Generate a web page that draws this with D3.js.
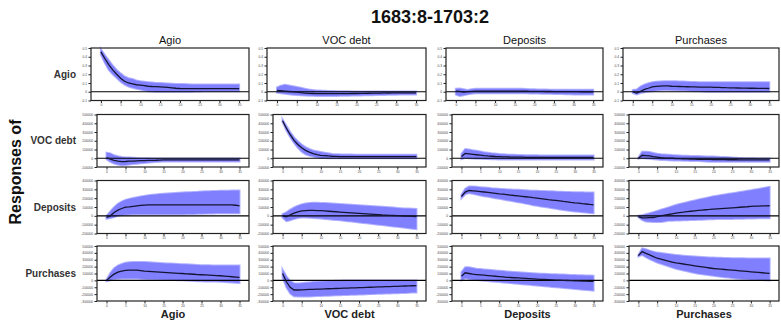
<!DOCTYPE html>
<html><head><meta charset="utf-8">
<script src="https://cdn.jsdelivr.net/npm/d3@7"></script>
<style>body{margin:0;background:#fff}svg{display:block;font-family:"Liberation Sans",Arial,sans-serif}</style>
</head><body><div id="c"></div>
<script>
const title = "1683:8-1703:2";
const variables = ["Agio","VOC debt","Deposits","Purchases"];
const yLabel = "Responses of";
const horizons = [0,1,2,3,4,5,6,7,8,9,10,11,12,13,14,15,16,17,18,19,20,21,22,23,24,25,26,27,28,29,30,31,32,33,34,35];
const xTicks = [0,5,10,15,20,25,30,35];
const rowUnits = [1,100000,100000,100000];
const rowTicks = [[-0.1,0,0.1,0.2,0.3,0.4,0.5],[-1,0,1,2,3,4,5],[-2,-1,0,1,2,3,4],[-3,-2,-1,0,1,2,3,4,5]];

// Row 1: responses of Agio
const agio_agio_mean=[.455,.38,.31,.25,.20,.155,.12,.10,.09,.08,.075,.07,.063,.06,.058,.056,.054,.05,.045,.04,.037,.036,.035,.035,.035,.035,.035,.035,.035,.035,.035,.035,.035,.035,.035,.035];
const agio_agio_hi=[.485,.42,.36,.30,.25,.21,.175,.155,.145,.13,.12,.115,.11,.105,.10,.10,.098,.095,.092,.09,.09,.088,.086,.084,.082,.082,.082,.082,.082,.082,.082,.082,.082,.082,.082,.082];
const agio_agio_lo=[.425,.33,.25,.20,.157,.115,.082,.06,.045,.035,.026,.015,.007,.003,0,0,0,0,0,0,0,0,0,0,.002,.004,.005,.006,.007,.007,.007,.007,.007,.007,.007,.007];
const agio_voc_mean=[.015,.012,.007,.003,0,-.005,-.011,-.015,-.018,-.02,-.022,-.022,-.022,-.022,-.022,-.022,-.022,-.021,-.021,-.02,-.02,-.019,-.018,-.017,-.016,-.015,-.015,-.014,-.014,-.013,-.013,-.013,-.012,-.012,-.012,-.012];
const agio_voc_hi=[.05,.07,.08,.072,.063,.055,.045,.035,.026,.02,.015,.013,.012,.01,.008,.007,.006,.005,.005,.004,.004,.004,.004,.004,.004,.004,.004,.004,.004,.004,.004,.004,.004,.004,.004,.004];
const agio_voc_lo=[-.011,-.017,-.022,-.028,-.034,-.037,-.04,-.043,-.045,-.047,-.048,-.048,-.048,-.048,-.048,-.048,-.047,-.046,-.045,-.044,-.043,-.042,-.041,-.04,-.039,-.038,-.037,-.036,-.035,-.034,-.033,-.032,-.031,-.03,-.03,-.03];
const agio_dep_mean=[.007,.004,-.003,.002,.005,.007,.007,.007,.007,.007,.007,.007,.007,.007,.007,.007,.007,.006,.006,.005,.005,.004,.004,.003,.003,.002,.002,.002,.001,.001,.001,.001,0,0,0,0];
const agio_dep_hi=[.033,.037,.028,.02,.028,.033,.033,.033,.033,.033,.033,.033,.033,.033,.033,.033,.033,.033,.031,.029,.028,.027,.026,.025,.024,.024,.023,.023,.022,.022,.022,.022,.022,.022,.022,.022];
const agio_dep_lo=[-.033,-.048,-.04,-.03,-.022,-.018,-.018,-.018,-.018,-.018,-.018,-.018,-.018,-.018,-.018,-.018,-.018,-.018,-.018,-.019,-.02,-.021,-.022,-.023,-.024,-.025,-.026,-.027,-.028,-.029,-.03,-.03,-.03,-.03,-.03,-.03];
const agio_pur_mean=[0,-.015,.005,.026,.04,.056,.062,.065,.067,.066,.063,.062,.06,.058,.057,.056,.055,.054,.053,.052,.052,.051,.05,.048,.046,.045,.044,.043,.042,.041,.04,.04,.039,.038,.038,.037];
const agio_pur_hi=[.019,.025,.06,.082,.097,.108,.114,.118,.12,.12,.12,.119,.118,.116,.114,.112,.111,.11,.109,.108,.108,.108,.108,.108,.108,.108,.108,.108,.108,.108,.108,.108,.108,.108,.108,.108];
const agio_pur_lo=[-.015,-.03,-.015,-.005,.002,.007,.012,.016,.019,.019,.018,.017,.015,.013,.011,.009,.007,.005,.003,.001,0,0,0,0,0,0,0,0,0,0,0,0,0,0,0,0];
// Row 2: responses of VOC debt (units of 100000)
const voc_agio_mean=[.075,-.11,-.23,-.32,-.38,-.37,-.34,-.32,-.30,-.28,-.26,-.25,-.24,-.23,-.21,-.19,-.19,-.19,-.19,-.19,-.19,-.19,-.19,-.19,-.19,-.19,-.19,-.19,-.19,-.19,-.19,-.19,-.19,-.19,-.19,-.19];
const voc_agio_hi=[.64,.56,.34,.22,.15,.1,.075,.05,.03,.01,0,-.01,-.02,-.03,-.04,-.04,-.04,-.04,-.04,-.04,-.04,-.04,-.04,-.04,-.04,-.04,-.04,-.04,-.04,-.04,-.04,-.04,-.04,-.04,-.04,-.04];
const voc_agio_lo=[-.11,-.41,-.6,-.72,-.79,-.76,-.71,-.66,-.62,-.57,-.53,-.5,-.47,-.44,-.41,-.38,-.38,-.38,-.38,-.38,-.38,-.38,-.38,-.38,-.38,-.38,-.38,-.38,-.38,-.38,-.38,-.38,-.38,-.38,-.38,-.38];
const voc_voc_mean=[4.29,3.43,2.69,2.05,1.57,1.19,.9,.7,.52,.42,.34,.3,.26,.23,.21,.19,.19,.19,.19,.19,.19,.19,.19,.19,.19,.19,.19,.19,.19,.19,.19,.19,.19,.19,.19,.19];
const voc_voc_hi=[4.44,3.7,2.99,2.39,1.94,1.57,1.27,1.06,.9,.8,.71,.63,.56,.5,.47,.45,.44,.43,.42,.41,.41,.41,.41,.41,.41,.41,.41,.41,.41,.41,.41,.41,.41,.41,.41,.41];
const voc_voc_lo=[4.14,3.17,2.39,1.75,1.19,.75,.45,.3,.19,.1,.04,.02,0,0,0,0,0,0,0,0,0,0,0,0,0,0,0,0,0,0,0,0,0,0,0,0];
const voc_dep_mean=[.2,.55,.5,.45,.4,.35,.3,.26,.23,.2,.18,.16,.15,.14,.13,.12,.12,.11,.11,.1,.1,.1,.1,.1,.1,.1,.1,.1,.1,.1,.1,.1,.1,.1,.1,.1];
const voc_dep_hi=[.5,1.05,1.0,.92,.85,.78,.7,.64,.58,.53,.49,.46,.43,.41,.39,.37,.36,.35,.34,.33,.33,.32,.32,.32,.32,.32,.32,.32,.32,.32,.32,.32,.32,.32,.32,.32];
const voc_dep_lo=[-.1,.05,0,-.02,-.05,-.07,-.09,-.1,-.11,-.12,-.13,-.13,-.13,-.13,-.13,-.13,-.13,-.13,-.13,-.13,-.13,-.13,-.13,-.13,-.13,-.13,-.13,-.13,-.13,-.13,-.13,-.13,-.13,-.13,-.13,-.13];
const voc_pur_mean=[0,.34,.3,.26,.19,.13,.07,.04,.02,0,-.04,-.05,-.06,-.08,-.1,-.11,-.12,-.13,-.13,-.14,-.15,-.15,-.16,-.16,-.17,-.17,-.17,-.18,-.18,-.18,-.18,-.19,-.19,-.19,-.19,-.19];
const voc_pur_hi=[.07,.75,.73,.71,.6,.52,.45,.42,.39,.36,.34,.32,.3,.29,.27,.26,.25,.23,.21,.2,.19,.17,.15,.13,.11,.08,.06,.04,.02,.01,0,-.01,-.02,-.03,-.04,-.04];
const voc_pur_lo=[-.04,.04,-.02,-.07,-.11,-.15,-.19,-.21,-.23,-.25,-.26,-.27,-.28,-.29,-.3,-.3,-.32,-.34,-.37,-.39,-.41,-.41,-.41,-.41,-.41,-.41,-.41,-.41,-.41,-.41,-.41,-.41,-.41,-.41,-.41,-.41];
// Row 3: responses of Deposits
const dep_agio_mean=[-.19,0,.38,.64,.83,.98,1.02,1.08,1.13,1.18,1.21,1.23,1.25,1.25,1.25,1.25,1.25,1.25,1.25,1.25,1.25,1.25,1.25,1.25,1.25,1.25,1.25,1.25,1.25,1.25,1.25,1.25,1.25,1.25,1.2,1.13];
const dep_agio_hi=[0,.49,.98,1.36,1.62,1.81,1.92,2.02,2.11,2.19,2.26,2.32,2.38,2.42,2.46,2.49,2.52,2.55,2.58,2.61,2.64,2.66,2.68,2.7,2.72,2.75,2.77,2.78,2.8,2.82,2.83,2.84,2.85,2.86,2.86,2.87];
const dep_agio_lo=[-.34,-.26,-.15,0,.08,.11,.15,.17,.19,.19,.19,.19,.19,.19,.19,.19,.19,.19,.19,.19,.19,.2,.21,.22,.23,.24,.25,.26,.27,.28,.29,.29,.3,.3,.3,.3];
const dep_voc_mean=[0,-.1,.1,.3,.45,.55,.6,.62,.62,.6,.58,.55,.52,.49,.46,.43,.4,.37,.34,.31,.28,.25,.22,.19,.16,.13,.1,.08,.06,.04,.02,0,-.02,-.04,-.06,-.08];
const dep_voc_hi=[.2,.4,.7,.95,1.15,1.3,1.4,1.45,1.47,1.47,1.46,1.44,1.42,1.4,1.38,1.35,1.32,1.29,1.26,1.23,1.2,1.17,1.14,1.11,1.08,1.05,1.02,.99,.96,.93,.9,.87,.84,.82,.8,.78];
const dep_voc_lo=[-.2,-.6,-.5,-.35,-.25,-.2,-.2,-.22,-.25,-.28,-.31,-.35,-.39,-.43,-.47,-.51,-.55,-.6,-.65,-.7,-.75,-.8,-.85,-.9,-.95,-1.0,-1.05,-1.1,-1.15,-1.2,-1.25,-1.3,-1.35,-1.4,-1.45,-1.5];
const dep_dep_mean=[2.19,2.68,2.87,2.83,2.79,2.75,2.7,2.65,2.6,2.55,2.49,2.45,2.4,2.35,2.3,2.26,2.21,2.16,2.11,2.05,2.0,1.95,1.9,1.84,1.79,1.74,1.69,1.63,1.58,1.52,1.47,1.43,1.38,1.34,1.29,1.25];
const dep_dep_hi=[2.38,3.06,3.32,3.32,3.29,3.25,3.21,3.17,3.13,3.1,3.06,3.04,3.01,2.99,2.96,2.94,2.92,2.9,2.87,2.85,2.83,2.81,2.8,2.78,2.77,2.75,2.74,2.72,2.71,2.69,2.68,2.67,2.66,2.65,2.65,2.64];
const dep_dep_lo=[2.0,2.45,2.57,2.49,2.4,2.3,2.22,2.15,2.07,2.0,1.92,1.85,1.77,1.7,1.62,1.55,1.47,1.38,1.3,1.21,1.13,1.06,.99,.93,.86,.79,.73,.67,.61,.55,.49,.45,.41,.37,.33,.3];
const dep_pur_mean=[-.08,-.23,-.23,-.21,-.19,-.1,0,.08,.15,.23,.3,.36,.41,.47,.52,.57,.61,.65,.69,.72,.76,.79,.82,.85,.88,.91,.94,.97,1.0,1.03,1.07,1.09,1.1,1.12,1.13,1.14];
const dep_pur_hi=[0,.08,.19,.3,.42,.55,.69,.82,.95,1.08,1.22,1.33,1.44,1.54,1.65,1.75,1.85,1.94,2.03,2.12,2.21,2.28,2.35,2.42,2.49,2.55,2.62,2.69,2.76,2.83,2.9,2.98,3.05,3.13,3.2,3.28];
const dep_pur_lo=[-.15,-.46,-.65,-.68,-.69,-.69,-.69,-.63,-.57,-.55,-.53,-.52,-.5,-.49,-.47,-.46,-.44,-.43,-.41,-.4,-.38,-.37,-.36,-.36,-.35,-.35,-.34,-.33,-.32,-.31,-.3,-.29,-.28,-.28,-.27,-.27];
// Row 4: responses of Purchases
const pur_agio_mean=[0,.48,.91,1.2,1.35,1.44,1.49,1.5,1.49,1.42,1.35,1.31,1.27,1.23,1.19,1.15,1.12,1.09,1.06,1.03,1.0,.96,.93,.89,.85,.82,.79,.76,.73,.7,.67,.62,.57,.53,.48,.43];
const pur_agio_hi=[.1,1.06,1.78,2.16,2.4,2.55,2.64,2.68,2.69,2.68,2.67,2.64,2.6,2.57,2.53,2.5,2.47,2.44,2.41,2.38,2.36,2.33,2.3,2.27,2.24,2.21,2.2,2.19,2.18,2.17,2.16,2.16,2.16,2.16,2.16,2.16];
const pur_agio_lo=[-.14,0,.19,.24,.29,.29,.29,.28,.27,.23,.19,.17,.15,.13,.11,.1,.08,.06,.04,.02,0,-.03,-.06,-.09,-.11,-.14,-.15,-.16,-.17,-.18,-.19,-.23,-.27,-.31,-.34,-.38];
const pur_voc_mean=[1.0,-.2,-1.0,-1.4,-1.4,-1.38,-1.35,-1.32,-1.3,-1.28,-1.26,-1.24,-1.22,-1.2,-1.18,-1.16,-1.14,-1.12,-1.1,-1.08,-1.06,-1.04,-1.02,-1.0,-.98,-.96,-.94,-.92,-.9,-.88,-.86,-.84,-.82,-.8,-.78,-.76];
const pur_voc_hi=[1.6,.6,-.1,-.4,-.45,-.4,-.35,-.3,-.25,-.2,-.15,-.12,-.1,-.08,-.06,-.04,-.02,0,0,0,0,0,0,0,0,0,0,0,0,0,0,0,0,0,0,0];
const pur_voc_lo=[.4,-1.0,-1.9,-2.3,-2.35,-2.35,-2.35,-2.33,-2.3,-2.28,-2.26,-2.24,-2.22,-2.2,-2.18,-2.16,-2.14,-2.12,-2.1,-2.08,-2.06,-2.04,-2.02,-2.0,-1.98,-1.96,-1.94,-1.92,-1.9,-1.88,-1.86,-1.84,-1.82,-1.8,-1.78,-1.76];
const pur_dep_mean=[.6,1.1,1.0,.9,.85,.8,.75,.7,.65,.6,.55,.5,.45,.42,.38,.35,.32,.28,.25,.22,.19,.16,.13,.1,.07,.04,.02,0,-.02,-.04,-.06,-.08,-.1,-.12,-.14,-.16];
const pur_dep_hi=[1.2,1.9,1.9,1.8,1.7,1.65,1.6,1.55,1.5,1.45,1.4,1.35,1.3,1.26,1.22,1.18,1.14,1.1,1.07,1.04,1.01,.98,.95,.92,.9,.88,.86,.84,.82,.8,.78,.76,.74,.72,.7,.68];
const pur_dep_lo=[0,.3,.2,.1,.05,0,-.05,-.1,-.15,-.2,-.25,-.3,-.35,-.4,-.45,-.5,-.55,-.6,-.65,-.7,-.75,-.8,-.85,-.9,-.95,-1.0,-1.05,-1.1,-1.15,-1.2,-1.25,-1.3,-1.35,-1.4,-1.45,-1.5];
const pur_pur_mean=[3.6,4.18,3.94,3.7,3.46,3.22,3.08,2.93,2.79,2.67,2.55,2.46,2.38,2.29,2.21,2.12,2.04,1.96,1.88,1.8,1.73,1.68,1.63,1.58,1.54,1.49,1.44,1.39,1.35,1.3,1.25,1.2,1.15,1.11,1.06,1.01];
const pur_pur_hi=[3.7,4.66,4.52,4.33,4.18,4.04,3.97,3.9,3.83,3.76,3.7,3.65,3.6,3.55,3.5,3.46,3.43,3.4,3.37,3.34,3.32,3.3,3.28,3.26,3.24,3.22,3.22,3.21,3.21,3.2,3.2,3.19,3.19,3.18,3.18,3.17];
const pur_pur_lo=[3.46,3.7,3.37,3.08,2.84,2.6,2.41,2.23,2.04,1.86,1.68,1.56,1.43,1.31,1.18,1.06,.98,.9,.83,.75,.67,.6,.54,.47,.41,.34,.29,.24,.2,.15,.1,.08,.06,.04,.02,0];

const panels = [
 [[agio_agio_mean,agio_agio_lo,agio_agio_hi],[agio_voc_mean,agio_voc_lo,agio_voc_hi],[agio_dep_mean,agio_dep_lo,agio_dep_hi],[agio_pur_mean,agio_pur_lo,agio_pur_hi]],
 [[voc_agio_mean,voc_agio_lo,voc_agio_hi],[voc_voc_mean,voc_voc_lo,voc_voc_hi],[voc_dep_mean,voc_dep_lo,voc_dep_hi],[voc_pur_mean,voc_pur_lo,voc_pur_hi]],
 [[dep_agio_mean,dep_agio_lo,dep_agio_hi],[dep_voc_mean,dep_voc_lo,dep_voc_hi],[dep_dep_mean,dep_dep_lo,dep_dep_hi],[dep_pur_mean,dep_pur_lo,dep_pur_hi]],
 [[pur_agio_mean,pur_agio_lo,pur_agio_hi],[pur_voc_mean,pur_voc_lo,pur_voc_hi],[pur_dep_mean,pur_dep_lo,pur_dep_hi],[pur_pur_mean,pur_pur_lo,pur_pur_hi]]
];

// layout
const W=781,H=321;
const colLeft=[97,273,452,629], colRight=[249,426,603,779], row1Shift=6;
const rowTop=[48,114.5,180.5,246], rowBottom=[100.5,167,233.5,301];

const svg=d3.select("#c").append("svg").attr("width",W).attr("height",H);
svg.append("rect").attr("width",W).attr("height",H).attr("fill","#fff");

svg.append("text").attr("x",430).attr("y",23).attr("text-anchor","middle")
  .attr("font-size",18).attr("font-weight","bold").attr("fill","#111").text(title);
svg.append("text").attr("transform","translate(21,172) rotate(-90)").attr("text-anchor","middle")
  .attr("font-size",16).attr("font-weight","bold").attr("fill","#111").text(yLabel);

variables.forEach((v,r)=>{
  svg.append("text").attr("x",76).attr("y",(rowTop[r]+rowBottom[r])/2+3.5).attr("text-anchor","end")
    .attr("font-size",10).attr("font-weight","bold").attr("fill","#333").text(v);
});

for(let r=0;r<4;r++){
  for(let c=0;c<4;c++){
    const L=colLeft[c]-(r===0?row1Shift:0), R=colRight[c], T=rowTop[r], B=rowBottom[r];
    const ticks=rowTicks[r];
    const x=d3.scaleLinear().domain([-2.5,37.5]).range([L,R]);
    const y=d3.scaleLinear().domain([ticks[0],ticks[ticks.length-1]]).range([B,T]);
    const [mean,lo,hi]=panels[r][c];
    const g=svg.append("g");
    const area=d3.area().x((d,i)=>x(horizons[i])).y0((d,i)=>y(lo[i])).y1((d,i)=>y(hi[i]));
    g.append("path").datum(mean).attr("d",area).attr("fill","none").attr("stroke","#b3b3ff").attr("stroke-width",2);
    g.append("path").datum(mean).attr("d",area).attr("fill","#8080ff");
    g.append("line").attr("x1",L).attr("x2",R).attr("y1",y(0)).attr("y2",y(0)).attr("stroke","#000").attr("stroke-width",1.2);
    g.append("path").datum(mean).attr("d",d3.line().x((d,i)=>x(horizons[i])).y(d=>y(d)))
      .attr("fill","none").attr("stroke","#141433").attr("stroke-width",1.3);
    g.append("rect").attr("x",L).attr("y",T).attr("width",R-L).attr("height",B-T)
      .attr("fill","none").attr("stroke","#222").attr("stroke-width",1.2);
    const ya=g.append("g").attr("transform",`translate(${L},0)`)
      .call(d3.axisLeft(y).tickValues(ticks).tickSize(2.5).tickPadding(1.5)
        .tickFormat(v=>String(Math.round(v*rowUnits[r]*10)/10)));
    const xa=g.append("g").attr("transform",`translate(0,${B})`)
      .call(d3.axisBottom(x).tickValues(xTicks).tickSize(2.5).tickPadding(1));
    [ya,xa].forEach(a=>{a.select(".domain").remove();
      a.selectAll("text").attr("font-size",3.2).attr("fill","#444").attr("font-family","Liberation Sans, Arial");
      a.selectAll("line").attr("stroke","#222");});
  }
}
variables.forEach((v,c)=>{
  const cx=(colLeft[c]-row1Shift+colRight[c])/2;
  svg.append("text").attr("x",cx).attr("y",44).attr("text-anchor","middle")
    .attr("font-size",11).attr("fill","#111").text(v);
  const cx2=(colLeft[c]+colRight[c])/2;
  svg.append("text").attr("x",cx2).attr("y",318).attr("text-anchor","middle")
    .attr("font-size",11).attr("font-weight","bold").attr("fill","#222").text(v);
});
</script></body></html>
